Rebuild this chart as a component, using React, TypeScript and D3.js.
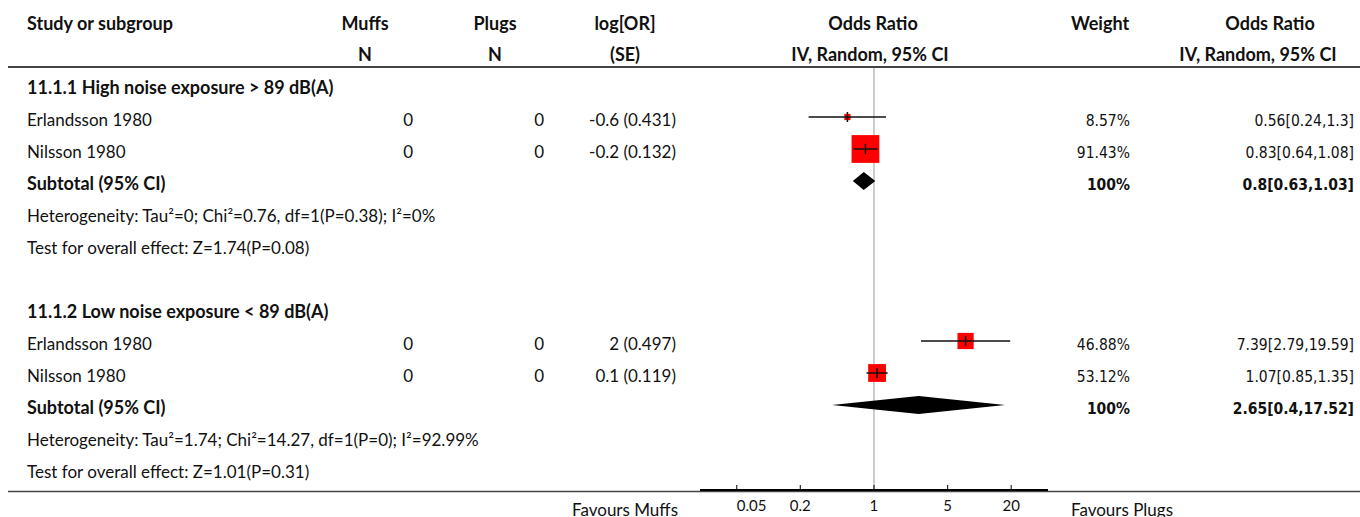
import React from "react";
import * as d3 from "d3";

const groupTitles = [
  "11.1.1 High noise exposure > 89 dB(A)",
  "11.1.2 Low noise exposure < 89 dB(A)",
];
const studyNames = [
  ["Erlandsson 1980", "Nilsson 1980"],
  ["Erlandsson 1980", "Nilsson 1980"],
];
const muffsN = [
  [0, 0],
  [0, 0],
];
const plugsN = [
  [0, 0],
  [0, 0],
];
const logOR = [
  [-0.6, -0.2],
  [2, 0.1],
];
const seLogOR = [
  [0.431, 0.132],
  [0.497, 0.119],
];
const weights = [
  [8.57, 91.43],
  [46.88, 53.12],
];
const oddsRatio = [
  [0.56, 0.83],
  [7.39, 1.07],
];
const ciLow = [
  [0.24, 0.64],
  [2.79, 0.85],
];
const ciHigh = [
  [1.3, 1.08],
  [19.59, 1.35],
];
const subtotalOR = [0.8, 2.65];
const subtotalLow = [0.63, 0.4];
const subtotalHigh = [1.03, 17.52];
const heterogeneity = [
  "Heterogeneity: Tau\u00b2=0; Chi\u00b2=0.76, df=1(P=0.38); I\u00b2=0%",
  "Heterogeneity: Tau\u00b2=1.74; Chi\u00b2=14.27, df=1(P=0); I\u00b2=92.99%",
];
const overallEffect = [
  "Test for overall effect: Z=1.74(P=0.08)",
  "Test for overall effect: Z=1.01(P=0.31)",
];
const axisTicks = [0.05, 0.2, 1, 5, 20];

const width = 1360;
const height = 517;
const FONT = "Lato, 'Noto Sans', sans-serif";
const NUMFONT = "'DejaVu Sans Condensed', 'DejaVu Sans', sans-serif";
const FS = 17;
const BFS = 18;
const NFS = 15.5;

const x = d3.scaleLog().domain([0.0224, 44.7]).range([700, 1048]);
const row = d3.scaleLinear().domain([0, 12]).range([85, 469]);
const boxSize = d3.scaleLinear().domain([0, 100]).range([4, 30]);

const col = {
  study: 27,
  muffs: 413,
  plugs: 544,
  logor: 676,
  weight: 1130,
  or: 1354,
};

const fmtCI = (m: number, lo: number, hi: number) => `${m}[${lo},${hi}]`;

export default function App() {
  const rows: React.ReactNode[] = [];
  const marks: React.ReactNode[] = [];

  groupTitles.forEach((title, g) => {
    const base = g * 7;
    const ty = (k: number) => row(base + k) + 8.5;
    rows.push(
      <text key={`t${g}`} x={col.study} y={ty(0)} fontWeight="bold" fontSize={BFS}>
        {title}
      </text>
    );
    studyNames[g].forEach((name, i) => {
      const k = i + 1;
      rows.push(
        <g key={`s${g}${i}`}>
          <text x={col.study} y={ty(k)}>{name}</text>
          <text x={col.muffs} y={ty(k)} textAnchor="end">{muffsN[g][i]}</text>
          <text x={col.plugs} y={ty(k)} textAnchor="end">{plugsN[g][i]}</text>
          <text x={col.logor} y={ty(k)} textAnchor="end">
            {`${logOR[g][i]} (${seLogOR[g][i]})`}
          </text>
          <text x={col.weight} y={ty(k)} textAnchor="end" fontFamily={NUMFONT} fontSize={NFS}>
            {`${weights[g][i]}%`}
          </text>
          <text x={col.or} y={ty(k)} textAnchor="end" fontFamily={NUMFONT} fontSize={NFS}>
            {fmtCI(oddsRatio[g][i], ciLow[g][i], ciHigh[g][i])}
          </text>
        </g>
      );
      const cy = row(base + k);
      const s = boxSize(weights[g][i]);
      marks.push(
        <g key={`m${g}${i}`}>
          <rect
            x={x(oddsRatio[g][i]) - s / 2}
            y={cy - s / 2}
            width={s}
            height={s}
            fill="#ff0000"
          />
          <line
            x1={x(ciLow[g][i])}
            x2={x(ciHigh[g][i])}
            y1={cy}
            y2={cy}
            stroke="#111"
            strokeWidth={1.5}
          />
          <line
            x1={x(oddsRatio[g][i])}
            x2={x(oddsRatio[g][i])}
            y1={cy - 5}
            y2={cy + 5}
            stroke="#111"
            strokeWidth={1.5}
          />
        </g>
      );
    });
    rows.push(
      <g key={`sub${g}`} fontWeight="bold">
        <text x={col.study} y={ty(3)} fontSize={BFS}>Subtotal (95% CI)</text>
        <text x={col.weight} y={ty(3)} textAnchor="end" fontFamily={NUMFONT} fontSize={NFS}>
          100%
        </text>
        <text x={col.or} y={ty(3)} textAnchor="end" fontFamily={NUMFONT} fontSize={NFS}>
          {fmtCI(subtotalOR[g], subtotalLow[g], subtotalHigh[g])}
        </text>
      </g>
    );
    rows.push(
      <text key={`h${g}`} x={col.study} y={ty(4)}>{heterogeneity[g]}</text>,
      <text key={`o${g}`} x={col.study} y={ty(5)}>{overallEffect[g]}</text>
    );
    const dy = row(base + 3);
    const diamond = d3.line()([
      [x(subtotalLow[g]), dy],
      [x(subtotalOR[g]), dy - 9],
      [x(subtotalHigh[g]), dy],
      [x(subtotalOR[g]), dy + 9],
    ]) + "Z";
    marks.push(<path key={`d${g}`} d={diamond} fill="#000" />);
  });

  const axisY = 490;

  return (
    <svg
      width={width}
      height={height}
      style={{ position: "absolute", left: 0, top: 0, background: "#fff" }}
      fontFamily={FONT}
      fontSize={FS}
      fill="#111"
    >
      {/* header */}
      <g fontWeight="bold" fontSize={BFS}>
        <text x={col.study} y={30}>Study or subgroup</text>
        <text x={365} y={30} textAnchor="middle">Muffs</text>
        <text x={365} y={61} textAnchor="middle">N</text>
        <text x={495} y={30} textAnchor="middle">Plugs</text>
        <text x={495} y={61} textAnchor="middle">N</text>
        <text x={625} y={30} textAnchor="middle">log[OR]</text>
        <text x={625} y={61} textAnchor="middle">(SE)</text>
        <text x={873} y={30} textAnchor="middle">Odds Ratio</text>
        <text x={870} y={61} textAnchor="middle">IV, Random, 95% CI</text>
        <text x={1100} y={30} textAnchor="middle">Weight</text>
        <text x={1270} y={30} textAnchor="middle">Odds Ratio</text>
        <text x={1258} y={61} textAnchor="middle">IV, Random, 95% CI</text>
      </g>
      <line x1={8} x2={width} y1={67} y2={67} stroke="#444" strokeWidth={2} />

      {/* null line */}
      <line x1={x(1)} x2={x(1)} y1={68} y2={axisY} stroke="#999" strokeWidth={1} />

      {rows}
      {marks}

      {/* bottom axis */}
      <line x1={8} x2={width} y1={491.5} y2={491.5} stroke="#444" strokeWidth={1.5} />
      <line x1={x.range()[0]} x2={x.range()[1]} y1={axisY} y2={axisY} stroke="#000" strokeWidth={2} />
      {axisTicks.map((t, i) => (
        <g key={`tk${t}`}>
          <line x1={x(t)} x2={x(t)} y1={axisY - 5} y2={axisY} stroke="#000" strokeWidth={1} />
          <text
            x={x(t)}
            y={511}
            fontSize={15}
            textAnchor={i === 0 ? "start" : "middle"}
          >
            {t}
          </text>
        </g>
      ))}
      <text x={678} y={516} textAnchor="end">Favours Muffs</text>
      <text x={1071} y={516}>Favours Plugs</text>
    </svg>
  );
}
